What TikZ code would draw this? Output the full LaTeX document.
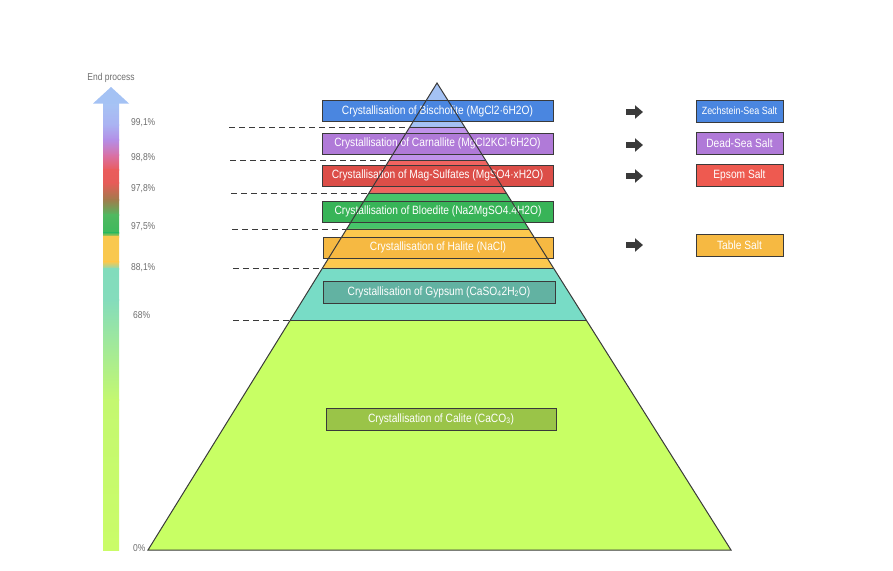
\documentclass[tikz,border=0pt]{standalone}
\usepackage{fontspec}
\newfontfamily\condfont[FakeStretch=0.85]{Liberation Sans}
\usetikzlibrary{calc,arrows.meta}
\definecolor{edgegray}{HTML}{3A3A3A}
\definecolor{labelgray}{HTML}{6E6E6E}
\definecolor{arrowgray}{HTML}{3A3A3A}
\definecolor{layBis}{HTML}{A4C2F4}
\definecolor{layCarn}{HTML}{C093EA}
\definecolor{layMag}{HTML}{F06460}
\definecolor{layBlo}{HTML}{46C46A}
\definecolor{layHal}{HTML}{FCC84E}
\definecolor{layGyp}{HTML}{78DCC6}
\definecolor{layCal}{HTML}{C8FF64}
\definecolor{boxBis}{HTML}{4A86E0}
\definecolor{boxCarn}{HTML}{B07AD8}
\definecolor{boxMag}{HTML}{DC4E48}
\definecolor{boxBlo}{HTML}{38B458}
\definecolor{boxHal}{HTML}{F6B942}
\definecolor{boxGyp}{HTML}{62B2A2}
\definecolor{boxCal}{HTML}{9AC448}
\definecolor{boxEps}{HTML}{EE5A50}
\begin{document}
\begin{tikzpicture}[x=1pt,y=-1pt,
  stage/.style={draw=edgegray,line width=0.9pt,minimum width=231pt,minimum height=21pt,inner sep=0pt,text=white,font=\condfont\fontsize{12}{14}\selectfont},
  salt/.style={stage,minimum width=87pt,minimum height=22pt},
  pct/.style={anchor=west,text=labelgray,inner sep=0pt,font=\condfont\fontsize{10}{12}\selectfont},
  guide/.style={draw=edgegray,line width=0.9pt,dash pattern=on 6pt off 4pt},
  pointer/.style={draw=arrowgray,line width=5.5pt,-{Triangle[length=8pt,width=13pt]}}]
\useasboundingbox (0,0) rectangle (893,570);

% scale bar
\foreach \ya/\ca/\yb/\cb in {103/A6C4F4/125/AAB2F2,125/AAB2F2/140/B48EE6,140/B48EE6/155/D872A8,155/D872A8/170/EA5C5C,170/EA5C5C/183/E65C58,183/E65C58/200/A07C4C,200/A07C4C/215/50B860,215/50B860/233/3CBA5C,233/3CBA5C/237/F9C84E,237/F9C84E/262/F9C84E,262/F9C84E/269/82DCBC,269/82DCBC/300/84DCBC,300/84DCBC/400/C4F870,400/C4F870/550/CAFC68}{
  \definecolor{segtop}{HTML}{\ca}
  \definecolor{segbot}{HTML}{\cb}
  \shade[top color=segtop,bottom color=segbot] (103,\ya-0.4) rectangle (119,\yb+0.4);
}
\fill[layBis] (93,103.5) -- (111,87) -- (129,103.5) -- cycle;
\node[text=labelgray,font=\condfont\fontsize{10}{12}\selectfont] (endproc) at (111,78) {End process};
\node[pct] (p991) at (131,123) {99,1\%};
\node[pct] (p988) at (131,158) {98,8\%};
\node[pct] (p978) at (131,189) {97,8\%};
\node[pct] (p975) at (131,227) {97,5\%};
\node[pct] (p881) at (131,268) {88,1\%};
\node[pct] (p68) at (133,315) {68\%};
\node[pct] (p0) at (133,548) {0\%};

% pyramid
\coordinate (apex) at (437,83);
\coordinate (bl) at (148,550);
\coordinate (br) at (731,550);
\foreach \ta/\tb/\col in {0/0.0942/layBis,0.0942/0.1649/layCarn,0.1649/0.2355/layMag,0.2355/0.3126/layBlo,0.3126/0.3961/layHal,0.3961/0.5075/layGyp,0.5075/1/layCal}
  \fill[\col] ($(apex)!\ta!(bl)$) -- ($(apex)!\tb!(bl)$) -- ($(apex)!\tb!(br)$) -- ($(apex)!\ta!(br)$) -- cycle;
\foreach \t/\x [count=\i] in {0.0942/229,0.1649/230,0.2355/231,0.3126/232,0.3961/233,0.5075/233}{
  \coordinate (lv\i) at ($(apex)!\t!(bl)$);
  \coordinate (rv\i) at ($(apex)!\t!(br)$);
  \coordinate (gs\i) at (lv\i -| \x,0);
  \draw[line width=0.8pt,edgegray] (lv\i) -- (rv\i);
  \draw[guide] (gs\i) -- (lv\i);
}

% stages
\node[stage,fill=boxBis] (bisch) at (437.5,111) {Crystallisation of Bischofite (MgCl2·6H2O)};
\node[stage,fill=boxCarn] (carn) at (437.5,143.5) {Crystallisation of Carnallite (MgCl2KCl·6H2O)};
\node[stage,fill=boxMag] (mags) at (437.5,175.5) {Crystallisation of Mag-Sulfates (MgSO4·xH2O)};
\node[stage,fill=boxBlo] (bloed) at (438,211.5) {Crystallisation of Bloedite (Na2MgSO4.4H2O)};
\node[stage,fill=boxHal,minimum width=230pt] (halite) at (438,247.5) {Crystallisation of Halite (NaCl)};
\node[stage,fill=boxGyp,minimum width=232pt,minimum height=22pt] (gyps) at (439,292) {Crystallisation of Gypsum (CaSO\textsubscript{4}2H\textsubscript{2}O)};
\node[stage,fill=boxCal,minimum width=230pt,minimum height=22pt] (calite) at (441,419) {Crystallisation of Calite (CaCO\textsubscript{3})};
\draw[line width=1pt,edgegray] (bl) -- (apex) -- (br) -- cycle;

% products
\node[salt,fill=boxBis,font=\condfont\fontsize{10.5}{12}\selectfont] (zech) at (739.5,111) {Zechstein-Sea Salt};
\node[salt,fill=boxCarn] (dead) at (739.5,143) {Dead-Sea Salt};
\node[salt,fill=boxEps] (epsom) at (739.5,175.5) {Epsom Salt};
\node[salt,fill=boxHal] (table) at (739.5,245) {Table Salt};
\foreach \y [count=\i] in {112,145,176,245}{
  \coordinate (as\i) at (626,\y);
  \coordinate (ae\i) at (643,\y);
  \draw[pointer] (as\i) -- (ae\i);
}
\end{tikzpicture}
\end{document}
